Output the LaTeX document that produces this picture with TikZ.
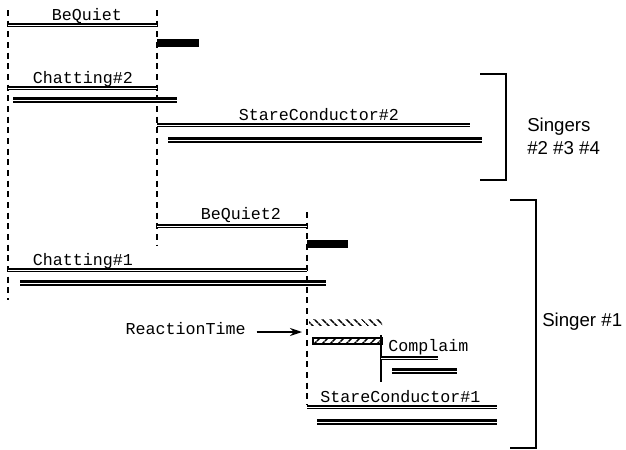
\documentclass[tikz,border=0pt]{standalone}
\usepackage{fontspec}
\setmainfont{Liberation Sans}
\newfontfamily\typefont{Liberation Mono}
\usetikzlibrary{positioning,arrows.meta,patterns.meta}
\tikzset{
  lbl/.style={font=\typefont\fontsize{12.5}{14}\selectfont,inner sep=0pt},
  grp/.style={font=\fontsize{14}{17}\selectfont,align=left,inner sep=0pt},
  barup/.style={draw=black,double=white,line width=1.1pt,double distance=0.7pt},
  bardn/.style={draw=black,double=white,line width=1.6pt,double distance=0.7pt},
  quietblk/.style={line width=6pt},
  sync/.style={line width=1pt,dash pattern=on 4.5pt off 3.5pt},
  onset/.style={line width=1pt},
  brkt/.style={line width=1.1pt},
}

\begin{document}
\begin{tikzpicture}[x=0.75pt,y=-0.75pt,>=Stealth]
  \useasboundingbox (0,0) rectangle (626,450);
  % --- sync lines ---
  \draw[sync] (8,10) -- (8,300);
  \draw[sync] (157,10) -- (157,245);
  \draw[sync] (307,212) -- (307,405);
  \draw[onset] (381,335) -- (381,382);
  % --- singers 2-4 ---
  \node[lbl] (bq) at (87,16) {BeQuiet};
  \draw[barup] (8,25) -- (157,25);
  \draw[quietblk] (157,43) -- (199,43);
  \node[lbl] (ch2) at (83,79) {Chatting\#2};
  \draw[barup] (8,88) -- (157,88);
  \draw[bardn] (13,100) -- (177,100);
  \node[lbl] (sc2) at (319,115) {StareConductor\#2};
  \draw[barup] (157,125) -- (470,125);
  \draw[bardn] (168,140) -- (482,140);
  % --- singer 1 ---
  \node[lbl] (bq2) at (241,215) {BeQuiet2};
  \draw[barup] (157,226) -- (307,226);
  \draw[quietblk] (307,244) -- (348,244);
  \node[lbl] (ch1) at (83,261) {Chatting\#1};
  \draw[barup] (8,270) -- (307,270);
  \draw[bardn] (20,283) -- (326,283);
  \node[lbl,anchor=east] (rt) at (246,329) {ReactionTime};
  \coordinate (rtend) at (302,332);
  \draw[->,line width=1pt,arrows={-Stealth[length=9pt,width=6pt]}] ([xshift=8pt]rt.east|-rtend) -- (rtend);
  \fill[pattern={Lines[angle=-45,distance=4pt,line width=1.3pt]}] (309,319) rectangle (382,325);
  \draw[line width=0.8pt,pattern={Lines[angle=45,distance=4pt,line width=1.2pt]}] (313,338) rectangle (382,344);
  \node[lbl,anchor=west] (cp) at (388,347) {Complaim};
  \draw[barup] (381,358) -- (438,358);
  \draw[bardn] (392,371) -- (457,371);
  \node[lbl,anchor=west] (sc1) at (320,397) {StareConductor\#1};
  \draw[barup] (307,407) -- (497,407);
  \draw[bardn] (317,422) -- (497,422);
  % --- brackets ---
  \draw[brkt] (480,74) -- (506,74) -- (506,180) -- (480,180);
  \node[grp,anchor=west] (g234) at (527,136) {Singers\\\#2 \#3 \#4};
  \draw[brkt] (510,200) -- (536,200) -- (536,448) -- (510,448);
  \node[grp,anchor=west] (g1) at (542,322) {Singer \#1};
\end{tikzpicture}
\end{document}
